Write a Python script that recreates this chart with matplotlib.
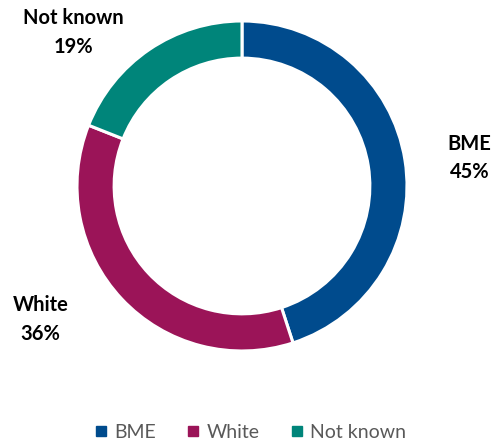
import matplotlib
matplotlib.use("Agg")
import matplotlib.pyplot as plt
from matplotlib.lines import Line2D

categories = ["BME", "White", "Not known"]
values = [45, 36, 19]
colors = ["#004B8D", "#9B1458", "#00857A"]
label_pos = [(1.38, 0.17), (-1.22, -0.81), (-1.02, 0.93)]

plt.rcParams['font.family'] = ['Lato', 'DejaVu Sans']

fig = plt.figure(figsize=(4.99, 4.44), dpi=100)
ax = fig.add_axes([0.1543, 0.2095, 330/499, 330/444])
ax.pie(values, colors=colors, startangle=90, counterclock=False,
       radius=1.0, wedgeprops=dict(width=0.225, edgecolor="white", linewidth=2.2))
ax.set_xlim(-1, 1)
ax.set_ylim(-1, 1)
ax.set_aspect("equal")
ax.axis("off")

for cat, v, (x, y) in zip(categories, values, label_pos):
    ax.text(x, y, f"{cat}\n{v}%", ha="center", va="center", fontsize=14.5,
            fontweight="bold", color="black", linespacing=1.55, clip_on=False)

handles = [Line2D([], [], marker="s", linestyle="none", markersize=6.5,
                  markerfacecolor=c, markeredgecolor=c) for c in colors]
fig.legend(handles, categories, loc="center", bbox_to_anchor=(0.5, 1 - 432/444),
           ncol=3, frameon=False, fontsize=14, handletextpad=0.3,
           columnspacing=1.5, labelcolor="#595959", handlelength=0.8)

fig.savefig("out.png", dpi=100)
